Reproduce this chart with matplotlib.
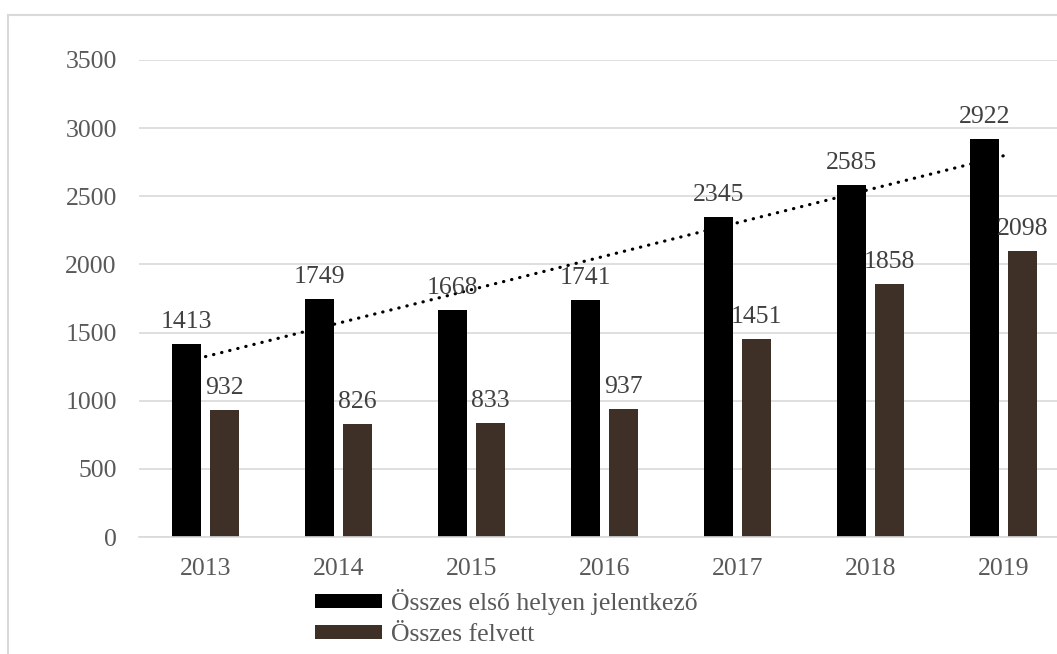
import matplotlib
matplotlib.use("Agg")
import matplotlib.pyplot as plt
from matplotlib.patches import Rectangle, Patch
import numpy as np

years = ["2013", "2014", "2015", "2016", "2017", "2018", "2019"]
jelentkezo = [1413, 1749, 1668, 1741, 2345, 2585, 2922]
felvett = [932, 826, 833, 937, 1451, 1858, 2098]
series_names = ["Összes első helyen jelentkező", "Összes felvett"]
yticks = [0, 500, 1000, 1500, 2000, 2500, 3000, 3500]

plt.rcParams['font.family'] = ['Liberation Serif', 'DejaVu Serif']

W, H = 1057, 654
fig = plt.figure(figsize=(W / 100, H / 100), dpi=100)

# outer chart border (clipped at right/bottom like the reference)
fig.add_artist(Rectangle((8 / W, -0.1), 1.2, (H - 15) / H + 0.1,
                         transform=fig.transFigure, fill=False,
                         edgecolor="#d9d9d9", linewidth=1.5))

ax_left, ax_right = 139, 1070
ax_top, ax_bot = 60, 537
ax = fig.add_axes([ax_left / W, (H - ax_bot) / H,
                   (ax_right - ax_left) / W, (ax_bot - ax_top) / H])

x = np.arange(len(years))
bw = 0.218
off = 0.143
c1 = "#000000"
c2 = "#3f3027"
ax.bar(x - off, jelentkezo, bw, color=c1, zorder=2)
ax.bar(x + off, felvett, bw, color=c2, zorder=2)

# linear trendline of first series
k, b = np.polyfit(x, jelentkezo, 1)
ax.plot([x[0], x[-1]], [k * x[0] + b, k * x[-1] + b], color="black",
        linewidth=2.3, linestyle=(0, (0.1, 2.5)), dash_capstyle="round",
        zorder=4)

lab_kw = dict(textcoords="offset points", ha="center", va="bottom",
              fontsize=18.5, color="#404040", zorder=5, annotation_clip=False)
for xi, v in zip(x, jelentkezo):
    ax.annotate(str(v), (xi - off, v), xytext=(0, 8), **lab_kw)
for xi, v in zip(x, felvett):
    ax.annotate(str(v), (xi + off, v), xytext=(0, 8), **lab_kw)

ax.set_xlim(-0.5, len(years) - 0.5)
ax.set_ylim(0, 3500)
ax.set_yticks(yticks)
ax.set_yticklabels([str(t) for t in yticks])
ax.set_xticks(x)
ax.set_xticklabels(years)
ax.grid(axis="y", color="#d9d9d9", linewidth=1.2, zorder=0)
ax.set_axisbelow(True)
for s in ["top", "right", "left"]:
    ax.spines[s].set_visible(False)
ax.spines["bottom"].set_color("#d9d9d9")
ax.spines["bottom"].set_linewidth(1.2)
ax.tick_params(axis="both", length=0, labelsize=18.5, colors="#595959")
ax.tick_params(axis="x", pad=15)
ax.tick_params(axis="y", pad=16)

handles = [Patch(facecolor=c1), Patch(facecolor=c2)]
ax.legend(handles, series_names, loc="upper left",
          bbox_to_anchor=(315 / W, (H - 589) / H), bbox_transform=fig.transFigure,
          frameon=False, fontsize=18.5, handlelength=2.6, handleheight=0.5,
          handletextpad=0.35, labelspacing=0.35, labelcolor="#595959",
          borderaxespad=0, borderpad=0)

fig.savefig("out.png", dpi=100)
